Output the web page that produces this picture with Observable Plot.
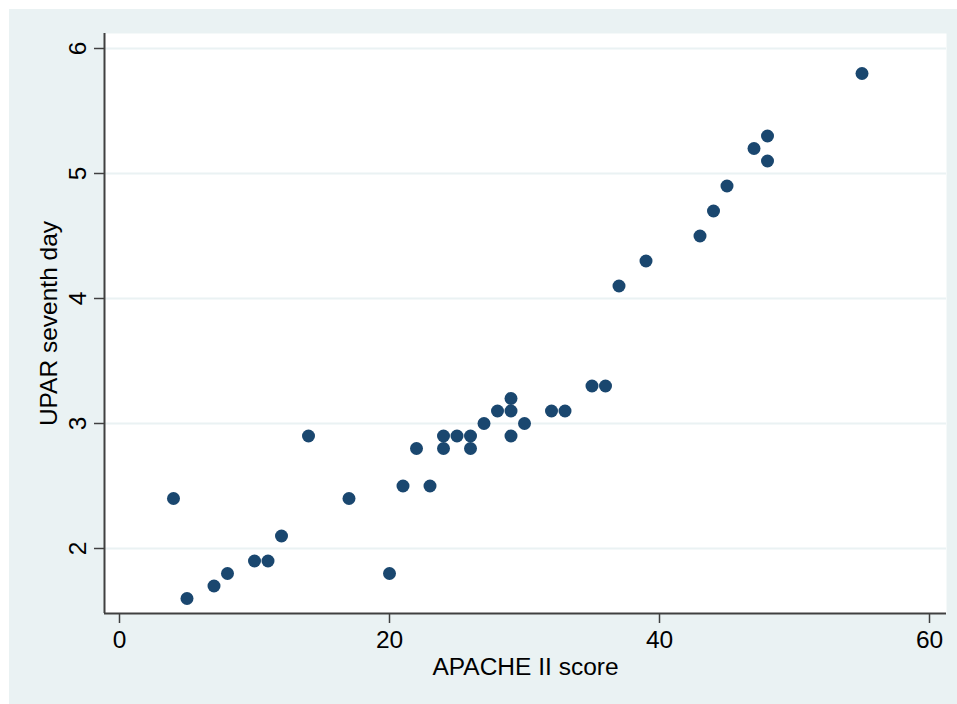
<!DOCTYPE html>
<html>
<head>
<meta charset="utf-8">
<script src="https://cdn.jsdelivr.net/npm/d3@7"></script>
<script src="https://cdn.jsdelivr.net/npm/@observablehq/plot@0.6"></script>
<style>
  html, body { margin: 0; padding: 0; background: #ffffff; }
  #wrap { position: absolute; left: 9px; top: 9px; width: 948px; height: 695px; background: #EAF2F3; }
  svg { display: block; }
</style>
</head>
<body>
<div id="wrap"></div>
<script>
const apache = [4, 5, 7, 8, 10, 11, 12, 14, 17, 20, 21, 22, 23, 24, 24, 25, 26, 26, 27, 28, 29, 29, 29, 30, 32, 33, 35, 36, 37, 39, 43, 44, 45, 47, 48, 48, 55];
const upar   = [2.4, 1.6, 1.7, 1.8, 1.9, 1.9, 2.1, 2.9, 2.4, 1.8, 2.5, 2.8, 2.5, 2.9, 2.8, 2.9, 2.9, 2.8, 3.0, 3.1, 3.2, 3.1, 2.9, 3.0, 3.1, 3.1, 3.3, 3.3, 4.1, 4.3, 4.5, 4.7, 4.9, 5.2, 5.3, 5.1, 5.8];
const xTicks = [0, 20, 40, 60];
const yTicks = [2, 3, 4, 5, 6];
const xLabel = "APACHE II score";
const yLabel = "UPAR seventh day";

const data = apache.map((a, i) => ({x: a, y: upar[i]}));

const W = 948, H = 695;
const mL = 95, mT = 24, mR = 11, mB = 91;
const xDomain = [-1.111, 61.259];
const yDomain = [1.48, 6.12];
const axisColor = "#404040";

const chart = Plot.plot({
  width: W, height: H,
  marginLeft: mL, marginTop: mT, marginRight: mR, marginBottom: mB,
  style: {background: "transparent", fontFamily: "'Liberation Sans', Arial, sans-serif", fontSize: "24px", color: "#000"},
  x: {domain: xDomain},
  y: {domain: yDomain},
  marks: [
    Plot.frame({fill: "#ffffff", stroke: null}),
    Plot.ruleY(yTicks, {stroke: "#EAF2F3", strokeWidth: 2}),
    Plot.axisX({ticks: xTicks, tickFormat: "d", tickSize: 10, tickPadding: 7, stroke: axisColor, strokeWidth: 1.5, fontSize: 24.5, fill: "#000",
      label: xLabel, labelAnchor: "center", labelArrow: "none", labelOffset: 61}),
    Plot.axisY({ticks: yTicks, tickFormat: "d", tickSize: 10, tickPadding: 9, tickRotate: -90, stroke: axisColor, strokeWidth: 1.5, fontSize: 24.5, fill: "#000",
      label: yLabel, labelAnchor: "center", labelArrow: "none", labelOffset: 65}),
    Plot.ruleX([xDomain[0]], {stroke: axisColor, strokeWidth: 2}),
    Plot.ruleY([yDomain[0]], {stroke: axisColor, strokeWidth: 2}),
    Plot.dot(data, {x: "x", y: "y", r: 6.5, fill: "#1A476F", stroke: null})
  ]
});
document.getElementById("wrap").appendChild(chart);
</script>
</body>
</html>
